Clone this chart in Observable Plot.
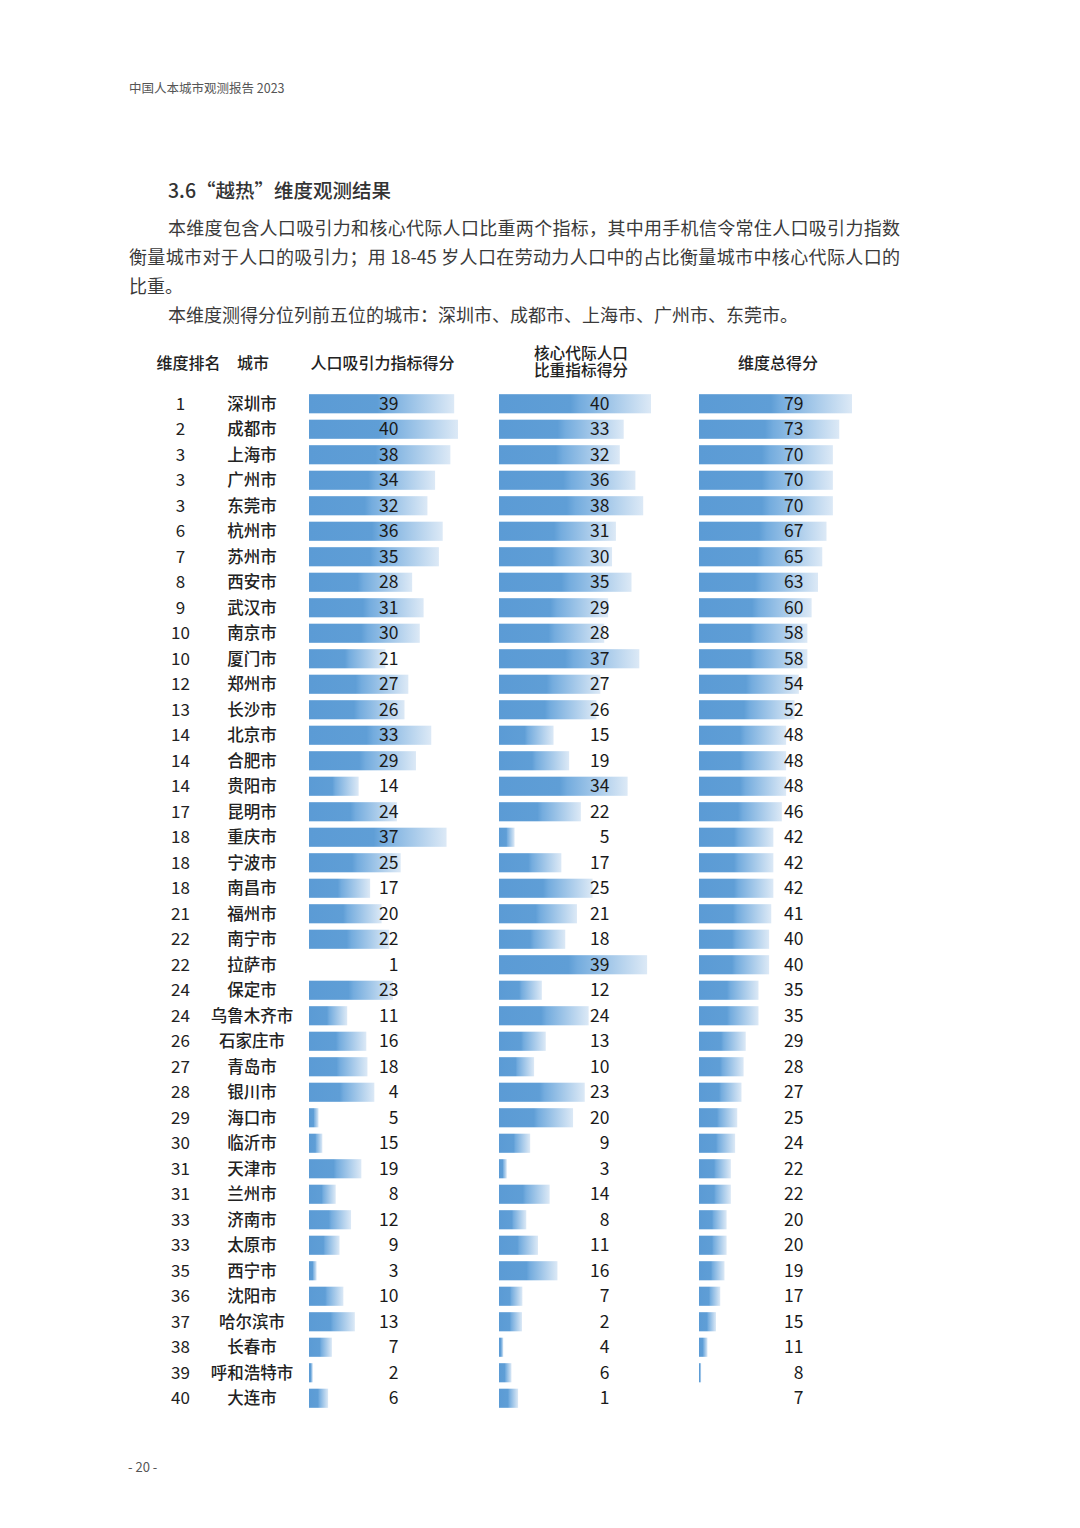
<!DOCTYPE html>
<html><head><meta charset="utf-8">
<script src="https://cdn.jsdelivr.net/npm/d3@7"></script>
<script src="https://cdn.jsdelivr.net/npm/@observablehq/plot@0.6"></script>
<style>
body{margin:0;background:#fff;font-family:"Noto Sans CJK SC","Noto Sans",sans-serif;color:#333}
#page{position:relative;width:1080px;height:1528px;overflow:hidden;background:#fff}
.abs{position:absolute;white-space:nowrap;transform:translateY(-50%);line-height:1.2}
.ctr{position:absolute;white-space:nowrap;transform:translate(-50%,-50%);text-align:center;line-height:1.1;font-size:16px;font-weight:500;color:#222}
.para{position:absolute;left:129px;width:771px;font-size:18px;color:#3a3a3a;transform:translateY(-50%);line-height:1.2;white-space:nowrap}
.just{text-align:justify;text-align-last:justify}
.plot{position:absolute;top:391px;line-height:0}
.plot svg{display:block}
</style></head><body>
<svg width="0" height="0" style="position:absolute"><defs>
<linearGradient id="barGrad" x1="0" x2="1" y1="0" y2="0">
<stop offset="0" stop-color="#5b9bd5"/>
<stop offset="0.47" stop-color="#5f9ed6"/>
<stop offset="0.53" stop-color="#74acde"/>
<stop offset="1" stop-color="#dce9f6"/>
</linearGradient></defs></svg>
<div id="page">
<div class="abs" style="left:129px;top:87px;font-size:12.5px;color:#555">中国人本城市观测报告 2023</div>
<div class="abs" style="left:168px;top:190px;font-size:19.5px;color:#333;font-weight:500">3.6“越热”维度观测结果</div>
<div class="para just" style="top:228px;padding-left:39px;width:732px">本维度包含人口吸引力和核心代际人口比重两个指标，其中用手机信令常住人口吸引力指数</div>
<div class="para just" style="top:257px">衡量城市对于人口的吸引力；用 18-45 岁人口在劳动力人口中的占比衡量城市中核心代际人口的</div>
<div class="para" style="top:286px">比重。</div>
<div class="para" style="top:315px;left:168px">本维度测得分位列前五位的城市：深圳市、成都市、上海市、广州市、东莞市。</div>
<div class="ctr" style="left:188.5px;top:363px">维度排名</div>
<div class="ctr" style="left:253px;top:363px">城市</div>
<div class="ctr" style="left:382.5px;top:363px">人口吸引力指标得分</div>
<div class="ctr" style="left:581px;top:353px;font-size:15.7px;line-height:1">核心代际人口</div>
<div class="ctr" style="left:581px;top:370px;font-size:15.7px;line-height:1">比重指标得分</div>
<div class="ctr" style="left:778px;top:363px">维度总得分</div>
<div id="labels" class="plot" style="left:0px"></div>
<div id="c1" class="plot" style="left:309px"></div>
<div id="c2" class="plot" style="left:499px"></div>
<div id="c3" class="plot" style="left:699px"></div>
<div class="abs" style="left:128px;top:1467px;font-size:13px;color:#555">- 20 -</div>
</div>
<script>
const ranks = [1,2,3,3,3,6,7,8,9,10,10,12,13,14,14,14,17,18,18,18,21,22,22,24,24,26,27,28,29,30,31,31,33,33,35,36,37,38,39,40];
const cities = ["深圳市","成都市","上海市","广州市","东莞市","杭州市","苏州市","西安市","武汉市","南京市","厦门市","郑州市","长沙市","北京市","合肥市","贵阳市","昆明市","重庆市","宁波市","南昌市","福州市","南宁市","拉萨市","保定市","乌鲁木齐市","石家庄市","青岛市","银川市","海口市","临沂市","天津市","兰州市","济南市","太原市","西宁市","沈阳市","哈尔滨市","长春市","呼和浩特市","大连市"];
const attractScore = [39,40,38,34,32,36,35,28,31,30,21,27,26,33,29,14,24,37,25,17,20,22,1,23,11,16,18,4,5,15,19,8,12,9,3,10,13,7,2,6];
// bar lengths as drawn in the source (a few differ from the printed score)
const attractBar = [39,40,38,34,32,36,35,28,31,30,21,27,26,33,29,14,24,37,25,17,20,22,1,23,11,16,16.3,18.1,3.5,4.5,14.7,8,12,9,3,10,13,7,2,6];
const coreScore = [40,33,32,36,38,31,30,35,29,28,37,27,26,15,19,34,22,5,17,25,21,18,39,12,24,13,10,23,20,9,3,14,8,11,16,7,2,4,6,1];
const coreBar = [40,33,32,36,38,31,30,35,29,28,37,27,26,15,19,34,22,5,17,25,21,18,39,12,24,13,10,23,20,9,3,14,8,11,16,7,6.9,2.1,4.2,5.9];
const totalScore = [79,73,70,70,70,67,65,63,60,58,58,54,52,48,48,48,46,42,42,42,41,40,40,35,35,29,28,27,25,24,22,22,20,20,19,17,15,11,8,7];

const rows = cities.map((c, i) => ({
  rank: ranks[i], city: c,
  attract: attractScore[i], attractBar: attractBar[i],
  core: coreScore[i], coreBar: coreBar[i],
  total: totalScore[i]
}));

const H = 1020;
const yScale = {type: "band", domain: cities, paddingInner: 0.25, paddingOuter: 0.125, round: false, axis: null};
const font = '"Noto Sans CJK SC","Noto Sans",sans-serif';

// rank + city columns
const labelPlot = Plot.plot({
  width: 320, height: H, margin: 0,
  style: {fontFamily: font, background: "transparent", overflow: "visible"},
  x: {type: "point", domain: ["rank", "city"], range: [180, 251.5], padding: 0, round: false, axis: null},
  y: yScale,
  marks: [
    Plot.text(rows, {x: () => "rank", y: "city", text: d => String(d.rank), fontSize: 17, fill: "#222"}),
    Plot.text(rows, {x: () => "city", y: "city", text: "city", fontSize: 16.5, fontWeight: 500, fill: "#222"})
  ]
});
document.getElementById("labels").append(labelPlot);

function barColumn(el, scoreKey, barKey, scores, w, labelDx) {
  const lo = d3.min(scores), hi = d3.max(scores);
  const p = Plot.plot({
    width: w + 20, height: H, margin: 0, marginRight: 20,
    style: {fontFamily: font, background: "transparent", overflow: "visible"},
    x: {domain: [lo, hi], axis: null},
    y: yScale,
    marks: [
      Plot.barX(rows, {x1: lo, x2: barKey, y: "city", fill: "url(#barGrad)"}),
      Plot.text(rows, {y: "city", text: d => String(d[scoreKey]), frameAnchor: "left", dx: labelDx, textAnchor: "end", fontSize: 17.5, fill: "#1a1a1a"})
    ]
  });
  document.getElementById(el).append(p);
}
barColumn("c1", "attract", "attractBar", attractScore, 149, 89);
barColumn("c2", "core", "coreBar", coreScore, 152, 110);
barColumn("c3", "total", "total", totalScore, 153, 104);
</script>
</body></html>
